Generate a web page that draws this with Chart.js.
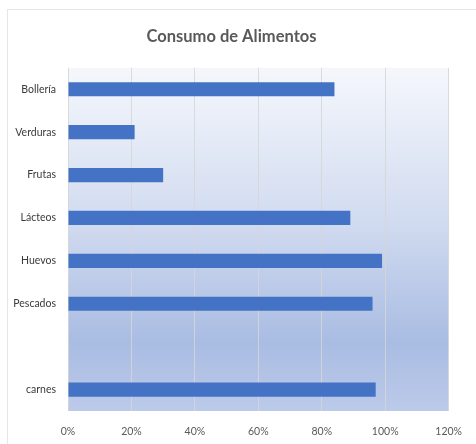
<!DOCTYPE html>
<html>
<head>
<meta charset="utf-8">
<script src="https://cdn.jsdelivr.net/npm/chart.js@4/dist/chart.umd.min.js"></script>
<style>
  html, body { margin: 0; padding: 0; background: #ffffff; }
  #wrap { width: 476px; height: 444px; }
</style>
</head>
<body>
<div id="wrap"><canvas id="c" width="476" height="444"></canvas></div>
<script>
// Food consumption, percent per category
const categories = ['Bollería', 'Verduras', 'Frutas', 'Lácteos', 'Huevos', 'Pescados', '', 'carnes'];
const consumo = [84, 21, 30, 89, 99, 96, null, 97];
const tickValues = [0, 20, 40, 60, 80, 100, 120];

const FONT = 'Lato, "Open Sans", sans-serif';

// Plot-area gradient fill and the faint outer frame
const backdrop = {
  id: 'backdrop',
  beforeDraw(chart) {
    const { ctx, chartArea: a } = chart;
    ctx.save();
    ctx.strokeStyle = '#e6e6e6';
    ctx.lineWidth = 1;
    ctx.strokeRect(7.5, 9.5, 600, 600);
    const g = ctx.createLinearGradient(0, a.top, 0, a.bottom);
    g.addColorStop(0, '#f5f7fc');
    g.addColorStop(0.45, '#d1dbf0');
    g.addColorStop(0.8, '#a9bce2');
    g.addColorStop(1, '#bccaea');
    ctx.fillStyle = g;
    ctx.fillRect(a.left, a.top, a.right - a.left, a.bottom - a.top);
    ctx.restore();
  }
};

new Chart(document.getElementById('c'), {
  type: 'bar',
  data: {
    labels: categories,
    datasets: [{
      data: consumo,
      backgroundColor: '#4472c4',
      borderWidth: 0,
      categoryPercentage: 1,
      barPercentage: 0.33
    }]
  },
  options: {
    indexAxis: 'y',
    responsive: false,
    animation: false,
    devicePixelRatio: 1,
    layout: { padding: { left: 8, right: 21, top: 0, bottom: 0 } },
    plugins: {
      legend: { display: false },
      tooltip: { enabled: false },
      title: {
        display: true,
        text: 'Consumo de Alimentos',
        color: '#595959',
        font: { family: FONT, size: 16.5, weight: 'bold', lineHeight: 1.2 },
        padding: { top: 27, bottom: 21 }
      }
    },
    scales: {
      x: {
        min: 0,
        max: 120,
        afterBuildTicks(axis) { axis.ticks = tickValues.map(v => ({ value: v })); },
        afterFit(axis) { axis.height = 33; },
        grid: { color: 'rgba(214,214,214,0.85)', lineWidth: 1, drawTicks: false },
        border: { display: false },
        ticks: {
          padding: 14,
          color: '#595959',
          font: { family: FONT, size: 10.5 },
          callback: v => v + '%'
        }
      },
      y: {
        afterFit(axis) { axis.width = 60; },
        grid: { display: false, drawTicks: false },
        border: { display: false },
        ticks: {
          padding: 12,
          color: '#3a3a3a',
          font: { family: FONT, size: 10.5 }
        }
      }
    }
  },
  plugins: [backdrop]
});
</script>
</body>
</html>
